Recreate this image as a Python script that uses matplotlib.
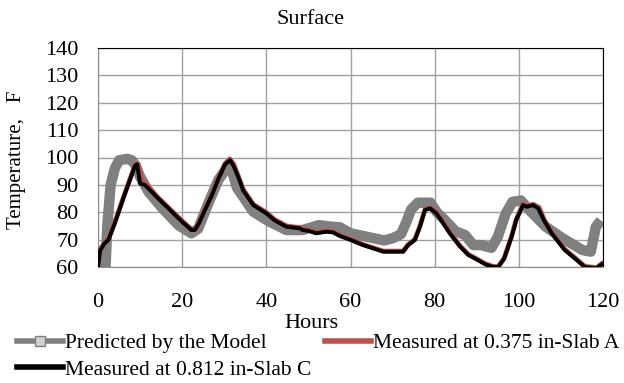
import matplotlib.pyplot as plt
from matplotlib.lines import Line2D

plt.rcParams['font.family'] = ['Liberation Serif', 'DejaVu Serif']

# Predicted by the model (gray band)
hours_m = [0, 1, 1.8, 2.2, 3, 4, 5, 7, 8, 9, 10, 12, 15.1, 19.1, 22.2, 23.8, 26.2, 28.6, 30.5, 31.5,
           33, 36.9, 40.8, 44.8, 48.6, 52.5, 55.6, 57.5, 60, 64, 68, 70, 72, 73.3, 74.4, 76, 79, 80.5, 82, 85,
           87.2, 89.2, 91, 93.5, 95, 96.9, 98.5, 100.5, 102.5, 106.4, 110.4, 115.1, 117.1, 118.3, 119.5]
temps_m = [62, 60, 60, 75, 90, 96, 99, 99.5, 99, 97, 93, 87.5, 81.8, 75.3, 72.3, 74, 83.2, 91.8, 96, 97,
           89, 80.2, 76.5, 73.5, 73.5, 75.3, 74.7, 74.5, 72.3, 71, 69.7, 70.5, 72, 76.5, 81, 83.5, 83.5, 80, 77.8, 73,
           71.7, 68, 68, 67, 71, 79.6, 83.8, 84.3, 80.8, 74.7, 70.5, 66.2, 65.6, 74.7, 77]

# Measured at 0.375 in - Slab A (red)
hours_a = [0, 0.5, 1.5, 2.5, 4, 6, 8.8, 9.5, 10.3, 11.5, 14, 17, 20, 22.2, 23.2, 24, 25.4, 27, 28.5, 30.2,
           31.3, 32.3, 33.3, 34.5, 36.9, 40, 42, 44.8, 48, 50, 51.9, 54.3, 55.9, 57.5, 60, 63, 67.8, 72.5, 73.7, 75.3,
           76.5, 77.7, 79, 80.4, 82, 83.6, 86, 88, 90.3, 92, 93.9, 95.1, 96.5, 98.3, 99.4, 101, 102, 103.4, 104.8, 106,
           107.8, 110.9, 113, 115.7, 118.5, 119.7]
temps_a = [60.3, 66.3, 68.8, 70.3, 76.3, 85.3, 97.3, 97.7, 92, 90.3, 85.8, 81.3, 76.8, 73.8, 73.8, 76.3, 81, 86.3, 92.1, 97.8,
           99.5, 97.4, 93.3, 88.3, 82.9, 79.9, 77.3, 75, 74.3, 73.5, 72.6, 73.2, 72.9, 71.6, 70.1, 68.2, 65.8, 65.8, 68.2, 70.1,
           75, 81.1, 81.7, 80, 76.4, 72.6, 67.8, 64.6, 62.7, 61.2, 60.2, 60.2, 63.2, 71.4, 77.5, 82.9, 82.3, 82.9, 81.8, 77.3,
           72.6, 66.5, 63.8, 60.2, 59.8, 61.2]

# Measured at 0.812 in - Slab C (black)
hours_c = [0, 0.5, 1.5, 2.5, 4, 6, 8.8, 9.3, 10, 11.2, 14, 17, 20, 22.2, 23, 24, 25.4, 27, 28.5, 30.2,
           31.4, 32.2, 33.3, 34.5, 36.9, 40, 42, 44.8, 48, 48.6, 50, 51.9, 53, 54.3, 55.9, 57.5, 60, 63, 67.8, 72.5,
           73.7, 75.3, 76.5, 77.7, 78.9, 80.4, 82, 83.6, 86, 88, 90.3, 92, 93.9, 95.1, 96.5, 98.3, 99.4, 101, 101.9, 103.4,
           104.6, 106, 107.8, 110.9, 113, 115.7, 118.5, 119.7]
temps_c = [60, 66, 68.5, 70, 76, 85, 97, 97.5, 90.5, 89.9, 85.5, 81, 76.5, 73.5, 73.5, 76, 80.8, 86, 91.8, 97.5,
           99, 97, 93, 88, 82.6, 79.6, 77, 74.7, 74.1, 73.5, 73.2, 72.3, 72.6, 72.9, 72.6, 71.3, 69.9, 68, 65.6, 65.6,
           68, 69.9, 74.7, 80.8, 81.4, 79.6, 76, 72.3, 67.5, 64.4, 62.5, 61, 60, 60, 63, 71.1, 77.2, 82.6, 82, 82.6,
           81.4, 77, 72.3, 66.2, 63.5, 60, 59.5, 61]

x_ticks = [0, 20, 40, 60, 80, 100, 120]
y_ticks = [60, 70, 80, 90, 100, 110, 120, 130, 140]

fig = plt.figure(figsize=(6.24, 3.83), dpi=100)
ax = fig.add_axes([98 / 624, 1 - 267 / 383, 505 / 624, 219 / 383])

ax.plot(hours_m, temps_m, color='#808080', lw=7.5, solid_joinstyle='round', solid_capstyle='butt', zorder=2)
ax.plot(hours_a, temps_a, color='#c0504d', lw=3.5, solid_joinstyle='round', zorder=3)
ax.plot(hours_c, temps_c, color='black', lw=2.8, solid_joinstyle='round', zorder=4)

ax.set_xlim(0, 120)
ax.set_ylim(60, 140)
ax.set_xticks(x_ticks)
ax.set_yticks(y_ticks)
ax.tick_params(axis='both', length=0, labelsize=16)
ax.tick_params(axis='x', pad=19)
ax.tick_params(axis='y', pad=14)
ax.grid(True, color='#a0a0a0', lw=1)
ax.set_axisbelow(True)
for side in ['left', 'bottom']:
    ax.spines[side].set_color('#8c8c8c')
for side in ['top', 'right']:
    ax.spines[side].set_color('black')

fig.text(311 / 624, 1 - 19 / 383, 'Surface', ha='center', va='center', fontsize=16)
fig.text(17 / 624, 1 - 160 / 383, 'Temperature,   F', rotation=90, ha='center', va='center', fontsize=15)
fig.text(311 / 624, 1 - 323 / 383, 'Hours', ha='center', va='center', fontsize=16)

# column-major fill: first column gets model + slab C, second gets slab A
handles = [
    Line2D([], [], color='#808080', lw=4, marker='s', markersize=6.5,
           markerfacecolor='#d0d0d0', markeredgecolor='#808080'),
    Line2D([], [], color='black', lw=4),
    Line2D([], [], color='#c0504d', lw=4),
]
labels = ['Predicted by the Model', 'Measured at 0.812 in-Slab C', 'Measured at 0.375 in-Slab A']
fig.legend(handles, labels, loc='upper left', bbox_to_anchor=(17 / 624, 1 - 333 / 383), ncol=2,
           frameon=False, fontsize=15.5, handlelength=2.15, handletextpad=0.1, columnspacing=0.6,
           labelspacing=0.3, borderpad=0, borderaxespad=0)

plt.savefig('out.png', dpi=100)
